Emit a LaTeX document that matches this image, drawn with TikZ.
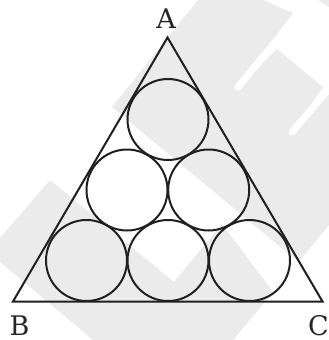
\documentclass[tikz,border=0pt]{standalone}
\usepackage{fontspec}
\setmainfont{DejaVu Serif}
\begin{document}
\begin{tikzpicture}[x=1pt,y=-1pt,
  wm/.style={fill=black!8,draw=none},
  slit/.style={draw=white,line width=7pt,line cap=round},
  ink/.style={draw=black!88,line width=2pt,line join=miter},
  ball/.style={circle,ink,minimum size=81pt,inner sep=0pt,outer sep=0pt},
  lab/.style={inner sep=0pt,text=black!85,font=\fontsize{27}{27}\selectfont}]
\useasboundingbox (0,0) rectangle (329,340);
\clip (0,0) rectangle (329,340);
% watermark
\fill[wm] (198,0) -- (263,0) -- (293,13) -- (238,87) -- (277,49) -- (323,87) -- (292,132) -- (329,93)
  -- (329,225) -- (298.5,262) -- (112,107) -- cycle;
\fill[wm] (318,0) -- (329,0) -- (329,7) -- cycle;
\fill[wm] (50,180) -- (0,238) -- (0,262) -- (93,340) -- (233,340) -- (273,292) -- (222,224) -- (174,282) -- cycle;
\draw[slit] (238,87) -- (290,24);
\draw[slit] (292,132) -- (340,76);
% triangle
\coordinate (A) at (167.5,37.5);
\coordinate (B) at (13,301.5);
\coordinate (C) at (322.5,301.5);
\draw[ink] (A) -- (B) -- (C) -- cycle;
% circles
\node[ball] (c1) at (168,119.5) {};
\node[ball] (c2) at (127,190) {};
\node[ball] (c3) at (208.7,190) {};
\node[ball] (c4) at (86.5,260.5) {};
\node[ball] (c5) at (168,260.5) {};
\node[ball] (c6) at (249.5,260.5) {};
% labels
\node[lab,anchor=base] (la) at (166,28.5) {A};
\node[lab,anchor=base] (lb) at (19.5,335) {B};
\node[lab,anchor=base east] (lc) at (329,335) {C};
\end{tikzpicture}
\end{document}
